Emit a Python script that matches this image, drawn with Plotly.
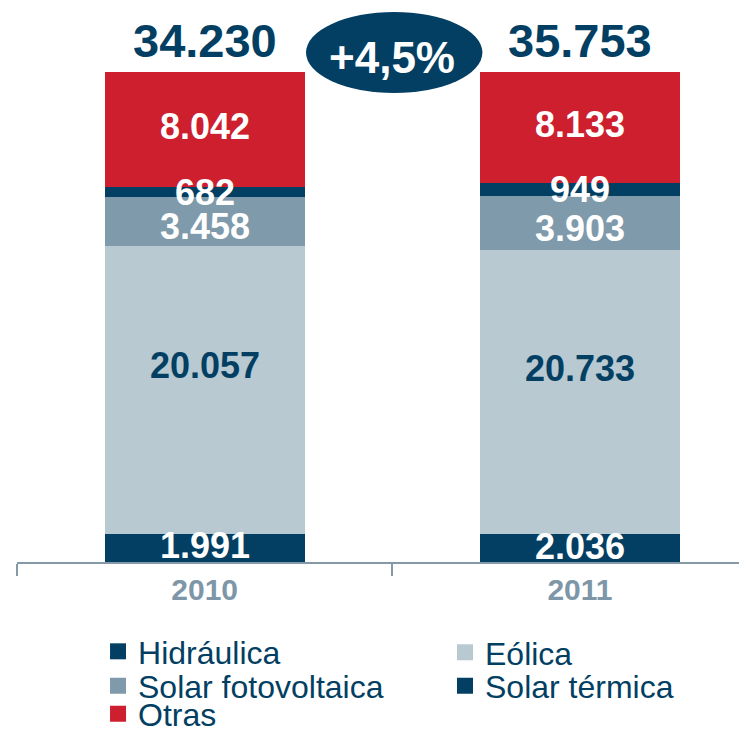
import plotly.graph_objects as go

years = ["2010", "2011"]
series_names = ["Hidráulica", "Eólica", "Solar fotovoltaica", "Solar térmica", "Otras"]
hidraulica = [1991, 2036]
eolica = [20057, 20733]
solar_fv = [3458, 3903]
solar_termica = [682, 949]
otras = [8042, 8133]
totals = [34230, 35753]
growth_label = "+4,5%"

series_values = [hidraulica, eolica, solar_fv, solar_termica, otras]
colors = ["#033f63", "#b8c9d1", "#7f9aab", "#033f63", "#cd1f2e"]
label_colors = ["white", "#033f63", "white", "white", "white"]
label_yshift = [2, 24, -5, 0, 3]  # style: vertical nudge of segment labels (px)

NAVY = "#033f63"
GREY = "#8599a7"
TICK_GREY = "#7d96a8"
FONT = "Liberation Sans, Arial, sans-serif"

# page body has an 8px default margin; shrink the figure so it fits the window
PAGE_OFFSET = 8
W, H = 747 - PAGE_OFFSET, 730 - PAGE_OFFSET

# legend placement (paper coords): one legend per entry, two columns
legend_ids = ["legend", "legend2", "legend3", "legend4", "legend5"]
legend_pos = [(0.111, -0.1827), (0.5863, -0.1847), (0.111, -0.2531), (0.5863, -0.2531), (0.111, -0.3102)]


def fmt(v):
    return f"{v:,}".replace(",", ".")


fig = go.Figure()
for name, vals, col in zip(series_names, series_values, colors):
    fig.add_trace(go.Bar(
        x=years, y=vals, name=name, marker=dict(color=col, line=dict(width=0)),
        width=0.533, hoverinfo="skip", showlegend=False,
    ))

# legend entries with larger square symbols
for name, col, lid in zip(series_names, colors, legend_ids):
    fig.add_trace(go.Scatter(
        x=[None], y=[None], mode="markers", name=name, legend=lid,
        marker=dict(symbol="square", size=16, color=col), showlegend=True,
    ))

annotations = []
for i, yr in enumerate(years):
    col_total = sum(v[i] for v in series_values)
    cum = 0
    for vals, lc, ys in zip(series_values, label_colors, label_yshift):
        v = vals[i]
        center = (cum + v / 2) / col_total * 100
        cum += v
        annotations.append(dict(
            x=i, y=center, xref="x", yref="y", text=f"<b>{fmt(v)}</b>",
            showarrow=False, font=dict(family=FONT, size=36, color=lc),
            yanchor="middle", yshift=ys,
        ))
    annotations.append(dict(
        x=i, y=100, xref="x", yref="y", text=f"<b>{fmt(totals[i])}</b>",
        showarrow=False, font=dict(family=FONT, size=47, color=NAVY),
        yanchor="middle", yshift=32,
    ))

annotations.append(dict(
    x=0.5, y=1.0306, xref="x", yref="paper", text=f"<b>{growth_label}</b>",
    showarrow=False, font=dict(family=FONT, size=44, color="white"),
    yanchor="middle",
))

layout_legends = {}
for lid, (lx, ly) in zip(legend_ids, legend_pos):
    layout_legends[lid] = dict(
        x=lx, y=ly, xanchor="left", yanchor="middle",
        font=dict(family=FONT, size=32, color=NAVY),
        itemsizing="trace", itemclick=False, itemdoubleclick=False,
        bgcolor="rgba(0,0,0,0)",
    )

fig.update_layout(
    width=W, height=H,
    margin=dict(l=17 - PAGE_OFFSET, r=0, t=72 - PAGE_OFFSET, b=168, autoexpand=False),
    paper_bgcolor="white", plot_bgcolor="white",
    barmode="stack", barnorm="percent",
    showlegend=True,
    xaxis=dict(
        type="category", range=[-0.5, 1.445], showline=True, linecolor=GREY, linewidth=2,
        ticks="outside", tickson="boundaries", ticklen=12, tickwidth=2, tickcolor=GREY,
        tickfont=dict(family=FONT, size=30, color=TICK_GREY),
        tickprefix="<b>", ticksuffix="</b>", showgrid=False, fixedrange=True,
    ),
    yaxis=dict(range=[0, 100], visible=False, fixedrange=True),
    annotations=annotations,
    shapes=[dict(
        type="circle", xref="x", yref="paper",
        x0=0.27, x1=0.74, y0=0.957, y1=1.1224,
        fillcolor=NAVY, line=dict(width=0), layer="below",
    )],
    **layout_legends,
)

fig.write_html("out.html")
